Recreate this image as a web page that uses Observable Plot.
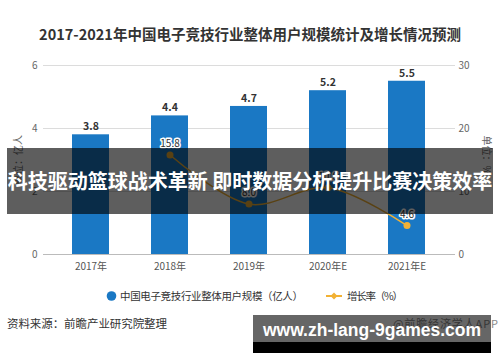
<!DOCTYPE html>
<html><head><meta charset="utf-8">
<script src="https://cdn.jsdelivr.net/npm/d3@7"></script>
<script src="https://cdn.jsdelivr.net/npm/@observablehq/plot@0.6"></script>
<style>
body{margin:0;background:#fff;}
#wrap{position:relative;width:500px;height:362px;background:#fff;overflow:hidden;font-family:"Noto Sans CJK SC","Noto Sans",sans-serif;}
.abs{position:absolute;white-space:nowrap;}
</style></head>
<body><div id="wrap">
<div class="abs" id="title" style="left:0;width:500px;top:24px;text-align:center;font-size:14.5px;font-weight:bold;color:#333;line-height:20px;"></div>
<div class="abs" id="chart" style="left:0;top:45px;"></div>
<div class="abs" style="left:10px;top:130px;width:14px;height:60px;">
  <div id="ylabL" style="position:absolute;left:7px;top:30px;transform:translate(-50%,-50%) rotate(-90deg);font-size:10px;color:#666;white-space:nowrap;"></div>
</div>
<div class="abs" style="left:480px;top:130px;width:14px;height:50px;">
  <div id="ylabR" style="position:absolute;left:7px;top:25px;transform:translate(-50%,-50%) rotate(90deg);font-size:10px;color:#666;white-space:nowrap;"></div>
</div>
<svg class="abs" id="legend" style="left:0;top:286px;" width="500" height="20"></svg>
<svg class="abs" id="foot" style="left:0;top:314px;" width="500" height="20"></svg>
<div class="abs" id="banner1" style="left:7px;top:148px;width:486px;height:66px;background:rgba(0,0,0,0.63);color:#fff;font-weight:bold;font-size:20px;line-height:66px;text-align:center;"></div>
<div class="abs" style="left:253px;top:315px;width:238px;height:27px;background:rgba(0,0,0,0.6);"></div>
<div class="abs" style="left:253px;top:342px;width:238px;height:11px;background:#000;"></div>
<div class="abs" id="banner2" style="left:253px;top:318px;width:238px;text-align:center;color:#fff;font-weight:bold;font-size:17.5px;line-height:24px;font-family:'Liberation Sans',Arial,sans-serif;"></div>
</div>
<script>
const titleText = "2017-2021年中国电子竞技行业整体用户规模统计及增长情况预测";
const years = ["2017年","2018年","2019年","2020年E","2021年E"];
const users = [3.8, 4.4, 4.7, 5.2, 5.5];
const growth = [null, 15.8, 8.0, 10.6, 4.6];
const leftTicks = [0, 2, 4, 6];
const rightTicks = [0, 10, 20, 30];
const seriesNames = ["中国电子竞技行业整体用户规模（亿人）", "增长率（%）"];
const leftLabel = "单位：亿人";
const rightLabel = "单位：%";
const sourceText = "资料来源：前瞻产业研究院整理";
const appText = "@前瞻经济学人APP";
const banner1Text = "科技驱动篮球战术革新 即时数据分析提升比赛决策效率";
const banner2Text = "www.zh-lang-9games.com";

const blue = "#1a78c4", orange = "#f2b134";
const k = leftTicks[leftTicks.length-1] / rightTicks[rightTicks.length-1];

const bars = years.map((y,i)=>({year:y, users:users[i]}));
const line = years.map((y,i)=>({year:y, g:growth[i]})).filter(d=>d.g!=null);

document.getElementById("title").textContent = titleText;
document.getElementById("ylabL").textContent = leftLabel;
document.getElementById("ylabR").textContent = rightLabel;
document.getElementById("banner1").textContent = banner1Text;
document.getElementById("banner2").textContent = banner2Text;

const ff = "'Noto Sans CJK SC','Noto Sans',sans-serif";
// legend
const leg = d3.select("#legend");
leg.append("circle").attr("cx", 111.5).attr("cy", 10).attr("r", 4.8).attr("fill", blue);
leg.append("text").attr("x", 120).attr("y", 14).attr("font-size", 10.5).attr("fill", "#333")
  .attr("font-family", ff).attr("textLength", 183).attr("lengthAdjust", "spacing").text(seriesNames[0]);
leg.append("line").attr("x1", 326).attr("x2", 342).attr("y1", 10).attr("y2", 10).attr("stroke", orange).attr("stroke-width", 2);
leg.append("path").attr("d", "M334 6.5 L337.5 10 L334 13.5 L330.5 10Z").attr("fill", orange);
leg.append("text").attr("x", 347).attr("y", 14).attr("font-size", 10.5).attr("fill", "#333")
  .attr("font-family", ff).attr("textLength", 56).attr("lengthAdjust", "spacing").text(seriesNames[1]);
// footer
const foot = d3.select("#foot");
foot.append("text").attr("x", 7).attr("y", 14).attr("font-size", 11.5).attr("fill", "#333")
  .attr("font-family", ff).attr("textLength", 160).attr("lengthAdjust", "spacing").text(sourceText);
foot.append("text").attr("x", 393).attr("y", 14).attr("font-size", 11).attr("fill", "#888")
  .attr("font-family", ff).attr("textLength", 105).attr("lengthAdjust", "spacing").text(appText);

const chart = Plot.plot({
  width: 500, height: 240,
  marginTop: 20, marginBottom: 31, marginLeft: 43, marginRight: 45,
  style: {fontFamily: ff, fontSize: "10px", color: "#666", background: "transparent"},
  x: {domain: years, paddingInner: 0.53, paddingOuter: 0.265, insetLeft: 8, insetRight: 9, label: null},
  y: {domain: [0, 6], label: null},
  marks: [
    Plot.gridY(leftTicks, {stroke: "#dcdcdc", strokeOpacity: 1}),
    Plot.axisY(leftTicks, {anchor: "left", tickSize: 0, tickPadding: 6, label: null, fill: "#666"}),
    Plot.axisY(rightTicks.map(v=>v*k), {anchor: "right", tickSize: 0, tickPadding: 3, label: null, fill: "#666", tickFormat: d => Math.round(d/k)}),
    Plot.barY(bars, {x: "year", y: "users", fill: blue}),
    Plot.ruleY([0], {stroke: "#bbb"}),
    Plot.axisX({tickSize: 0, tickPadding: 8, label: null, fill: "#555", fontSize: 10}),
    Plot.text(bars, {x: "year", y: "users", text: d => d.users.toFixed(1), dy: -8, fontWeight: "bold", fill: "#333", fontSize: 10.5}),
    Plot.line(line, {x: "year", y: d => d.g*k, stroke: orange, strokeWidth: 1.5, curve: "catmull-rom"}),
    Plot.dot(line, {x: "year", y: d => d.g*k, r: 3.5, fill: orange}),
    Plot.text(line, {x: "year", y: d => d.g*k, text: d => d.g.toFixed(1), dy: -11, fill: "#333", stroke: "white", strokeWidth: 3, fontSize: 10})
  ]
});
document.getElementById("chart").appendChild(chart);
</script>
</body></html>
